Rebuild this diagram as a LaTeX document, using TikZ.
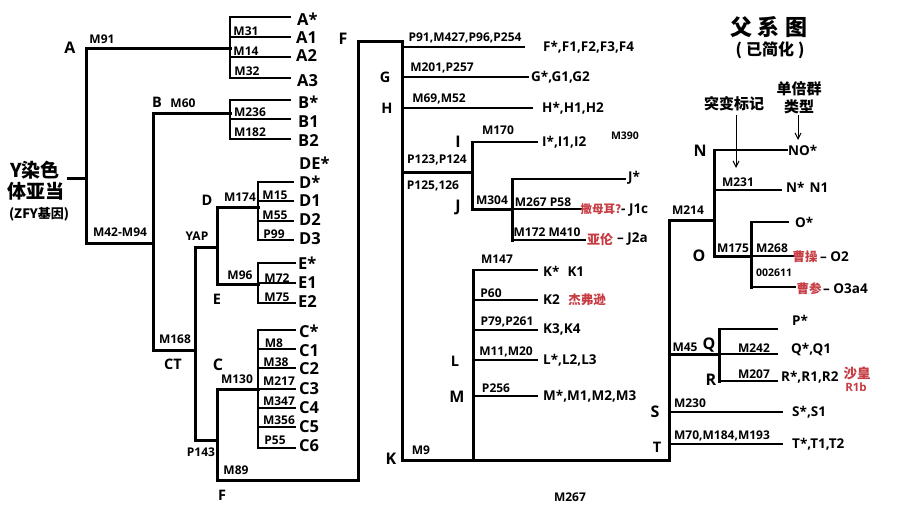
\documentclass[tikz,border=0pt]{standalone}
\usepackage{fontspec}
\setmainfont{Open Sans}
\newfontfamily\cjk{Noto Sans CJK SC}
\usetikzlibrary{arrows.meta}
\definecolor{redc}{RGB}{200,60,68}
\newcommand\twig[4]{\coordinate (#1a) at (#2,#4);\coordinate (#1b) at (#3,#4);\draw[leaf] (#1a) -- (#1b);}
\newcommand\stem[5][leaf]{\coordinate (#2a) at (#3,#4);\coordinate (#2b) at (#3,#5);\draw[#1] (#2a) -- (#2b);}
\tikzset{
  main/.style={line width=3pt,line cap=rect},
  leaf/.style={line width=2.2pt,line cap=rect},
  arr/.style={line width=1pt,-{Straight Barb[length=6pt,width=6pt]}},
  mk/.style={inner sep=0pt,font=\fontsize{12}{12}\selectfont\bfseries},
  mks/.style={inner sep=0pt,font=\fontsize{10.5}{10.5}\selectfont\bfseries},
  lfL/.style={inner sep=0pt,anchor=west,font=\fontsize{16.5}{16.5}\selectfont\bfseries},
  lfR/.style={inner sep=0pt,anchor=west,font=\fontsize{13.5}{13.5}\selectfont\bfseries},
  grp/.style={inner sep=0pt,font=\fontsize{16}{16}\selectfont\bfseries},
  grps/.style={inner sep=0pt,font=\fontsize{14.5}{14.5}\selectfont\bfseries},
  rtx/.style={inner sep=0pt,text=redc,font=\cjk\fontsize{12.5}{12.5}\selectfont\bfseries},
  cj/.style={inner sep=0pt,font=\cjk\fontsize{15}{15}\selectfont\bfseries},
}
\begin{document}
\begin{tikzpicture}[x=1pt,y=-1pt]
\useasboundingbox[fill=white] (0,0) rectangle (910,525);
% ---------- branch points ----------
\coordinate (root) at (68,178);
\coordinate (nA) at (86,48);
\coordinate (nAB) at (86,243);
\coordinate (nAsub) at (230,48);
\coordinate (nB) at (153,113);
\coordinate (nBsub) at (230,113);
\coordinate (nCT) at (153,350);
\coordinate (nYAP) at (195,247);
\coordinate (nDE) at (217,247);
\coordinate (nYAPe) at (195,440);
\coordinate (nCF) at (217,440);
\coordinate (nD) at (217,207);
\coordinate (nDsub) at (258,207);
\coordinate (nE) at (217,284);
\coordinate (nEsub) at (258,284);
\coordinate (nC) at (217,389);
\coordinate (nCsub) at (258,389);
\coordinate (nF) at (217,480);
\coordinate (nFb) at (358,480);
\coordinate (nFt) at (358,41);
\coordinate (nG) at (402,41);
\coordinate (nK) at (402,460);
\coordinate (nIJ) at (402,172);
\coordinate (nIJv) at (472,172);
\coordinate (nI) at (472,142);
\coordinate (nJ) at (472,209);
\coordinate (nJsub) at (512,209);
\coordinate (nNO) at (669,460);
\coordinate (nNOt) at (669,220);
\coordinate (nN) at (714,220);
\coordinate (nNt) at (714,150);
\coordinate (nO) at (714,256);
\coordinate (nOsub) at (751,256);
\coordinate (nQ) at (669,354);
\coordinate (nQsub) at (719,354);
% ---------- main branches ----------
\draw[main] (root) -- (root -| nA);
\draw[main] (nAsub) -- (nA) -- (nAB) -- (nAB -| nB);
\draw[main] (nBsub) -- (nB) -- (nCT) -- (nCT -| nYAP);
\draw[main] (nDE) -- (nYAP) -- (nYAPe) -- (nCF);
\draw[main] (nDsub) -- (nD) -- (nE) -- (nEsub);
\draw[main] (nCsub) -- (nC) -- (nF) -- (nFb) -- (nFt) -- (nG) -- (nK) -- (nNO) -- (nNOt) -- (nN);
\draw[main] (nIJ) -- (nIJv);
\draw[main] (nI) -- (nJ) -- (nJsub);
\stem[main]{sJ}{512}{179}{240}
\stem[main]{sLM}{473}{270}{460}
\draw[main] (nNt) -- (nO) -- (nOsub);
\stem[main]{sO}{751}{222}{287}
\draw[main] (nQ) -- (nQsub);
\stem[main]{sQ}{719}{329}{381}
% ---------- sub stems ----------
\stem{sA}{230}{17}{78}
\stem{sB}{230}{100}{139}
\stem{sD}{258}{182}{240}
\stem{sE}{258}{263}{303}
\stem{sC}{258}{330}{448}
% ---------- twigs ----------
\twig{tAs}{230}{290}{17}
\twig{tA1}{230}{290}{37}
\twig{tA2}{230}{290}{57}
\twig{tA3}{230}{290}{78}
\twig{tBs}{230}{290}{100}
\twig{tB1}{230}{290}{119}
\twig{tB2}{230}{290}{139}
\twig{tDs}{258}{293}{182}
\twig{tD1}{258}{293}{201}
\twig{tD2}{258}{293}{221}
\twig{tD3}{258}{293}{240}
\twig{tEs}{258}{295}{263}
\twig{tE1}{258}{295}{283}
\twig{tE2}{258}{295}{303}
\twig{tCs}{258}{295}{330}
\twig{tC1}{258}{295}{349}
\twig{tC2}{258}{295}{368}
\twig{tC3}{258}{295}{389}
\twig{tC4}{258}{295}{408}
\twig{tC5}{258}{295}{427}
\twig{tC6}{258}{295}{448}
\twig{tF}{402}{524}{47}
\twig{tG}{402}{528}{77}
\twig{tH}{402}{532}{108}
\twig{tI}{472}{537}{142}
\twig{tJs}{512}{625}{179}
\twig{tJ1}{512}{582}{209}
\twig{tJ2}{512}{585}{240}
\twig{tK1}{473}{537}{270}
\twig{tK2}{473}{537}{300}
\twig{tK3}{473}{537}{330}
\twig{tL}{473}{537}{360}
\twig{tM}{473}{537}{396}
\twig{tN}{714}{787}{150}
\twig{tN1}{714}{781}{190}
\twig{tOs}{751}{788}{222}
\twig{tO2}{751}{793}{256}
\twig{tO3}{751}{795}{287}
\twig{tP}{719}{777}{329}
\twig{tQ}{719}{777}{354}
\twig{tR}{719}{777}{381}
\twig{tS}{669}{782}{412}
\twig{tT}{669}{782}{444}
% ---------- root label ----------
\node[inner sep=0pt,font=\cjk\fontsize{19}{19}\selectfont\bfseries] (root1) at (35,170) {Y染色};
\node[inner sep=0pt,font=\cjk\fontsize{19}{19}\selectfont\bfseries] (root2) at (36,191) {体亚当};
\node[inner sep=0pt,font=\cjk\fontsize{13}{13}\selectfont\bfseries] (root3) at (39,214) {(ZFY基因)};
% ---------- title ----------
\node[inner sep=0pt,font=\cjk\fontsize{22}{22}\selectfont\bfseries] (title) at (769,27) {父 系 图};
\node[inner sep=0pt,font=\cjk\fontsize{16}{16}\selectfont\bfseries] (subtitle) at (770,50) {(\hspace{4pt}已简化\hspace{4pt})};
\node[cj] (lmut) at (734,104) {突变标记};
\node[cj] (lhap1) at (799,89) {单倍群};
\node[cj] (lhap2) at (799,107) {类型};
\coordinate (a1s) at (736,115);
\coordinate (a1e) at (736,168);
\coordinate (a2s) at (798,115);
\coordinate (a2e) at (798,140);
\draw[arr] (a1s) -- (a1e);
\draw[arr] (a2s) -- (a2e);
% ---------- group letters ----------
\node[grp] (gA) at (70,48) {A};
\node[grps] (gB) at (157,102) {B};
\node[grps] (gD) at (207,200) {D};
\node[grps] (gE) at (217,299) {E};
\node[grps] (gCT) at (173,364) {CT};
\node[grp] (gC) at (218,365) {C};
\node[grps] (gFb) at (222,495) {F};
\node[grp] (gFt) at (343,39) {F};
\node[grps] (gG) at (385,77) {G};
\node[grps] (gH) at (387,108) {H};
\node[grp] (gI) at (458,142) {I};
\node[grp] (gJ) at (458,207) {J};
\node[grp] (gK) at (391,459) {K};
\node[grps] (gL) at (455,361) {L};
\node[grp] (gM) at (457,397) {M};
\node[grp] (gN) at (700,151) {N};
\node[grp] (gO) at (699,256) {O};
\node[grp] (gQ) at (709,345) {Q};
\node[grp] (gR) at (711,380) {R};
\node[grp] (gS) at (655,412) {S};
\node[grps] (gT) at (657,447) {T};
% ---------- left leaves ----------
\node[lfL] (lAs) at (297,19) {A*};
\node[lfL] (lA1) at (296,37.5) {A1};
\node[lfL] (lA2) at (296,56) {A2};
\node[lfL] (lA3) at (297,81) {A3};
\node[lfL] (lBs) at (298,102) {B*};
\node[lfL] (lB1) at (298,122) {B1};
\node[lfL] (lB2) at (298,141) {B2};
\node[lfL] (lDE) at (299,163) {DE*};
\node[lfL] (lDs) at (299,182) {D*};
\node[lfL] (lD1) at (299,201) {D1};
\node[lfL] (lD2) at (299,220) {D2};
\node[lfL] (lD3) at (299,239) {D3};
\node[lfL] (lEs) at (298,263) {E*};
\node[lfL] (lE1) at (298,283) {E1};
\node[lfL] (lE2) at (298,302) {E2};
\node[lfL] (lCs) at (299,331) {C*};
\node[lfL] (lC1) at (299,351) {C1};
\node[lfL] (lC2) at (299,369) {C2};
\node[lfL] (lC3) at (299,389) {C3};
\node[lfL] (lC4) at (299,408) {C4};
\node[lfL] (lC5) at (299,427) {C5};
\node[lfL] (lC6) at (299,446) {C6};
% ---------- right leaves ----------
\node[lfR] (lF) at (543,47) {F*,F1,F2,F3,F4};
\node[lfR] (lG) at (531,77.5) {G*,G1,G2};
\node[lfR] (lH) at (542,108) {H*,H1,H2};
\node[lfR] (lI) at (542,142) {I*,I1,I2};
\node[lfR] (lJs) at (628,178) {J*};
\node[lfR] (lJ1) at (621,210) {- J1c};
\node[lfR] (lJ2) at (617,239) {– J2a};
\node[lfR] (lK1) at (543,271) {K*\hspace{8pt}K1};
\node[lfR] (lK2) at (543,300) {K2};
\node[lfR] (lK3) at (543,329) {K3,K4};
\node[lfR] (lL) at (543,360) {L*,L2,L3};
\node[lfR] (lM) at (543,396) {M*,M1,M2,M3};
\node[lfR] (lNO) at (788,150) {NO*};
\node[lfR] (lN1) at (786,187) {N*\hspace{5pt}N1};
\node[lfR] (lOs) at (795,222) {O*};
\node[lfR] (lO2) at (820,257) {– O2};
\node[lfR] (lO3) at (823,289) {– O3a4};
\node[lfR] (lP) at (792,320) {P*};
\node[lfR] (lQ) at (791,350) {Q*,Q1};
\node[lfR] (lR) at (781,377) {R*,R1,R2};
\node[lfR] (lS) at (792,412) {S*,S1};
\node[lfR] (lT) at (792,444) {T*,T1,T2};
% ---------- red names ----------
\node[rtx,font=\cjk\fontsize{11.5}{11.5}\selectfont\bfseries] (rJ1) at (601,209) {撒母耳?};
\node[rtx,font=\cjk\fontsize{13}{13}\selectfont\bfseries] (rJ2) at (600,240) {亚伦};
\node[rtx] (rK2) at (587,300) {杰弗逊};
\node[rtx] (rO2) at (805,257) {曹操};
\node[rtx] (rO3) at (809,289) {曹参};
\node[rtx,font=\cjk\fontsize{13.5}{13.5}\selectfont\bfseries] (rR1) at (857,373) {沙皇};
\node[rtx,font=\fontsize{11.5}{11.5}\selectfont\bfseries] (rR2) at (856,387) {R1b};
% ---------- mutation markers ----------
\node[mk] (m1) at (102,39) {M91};
\node[mk] (m2) at (246,31) {M31};
\node[mk] (m3) at (246,51) {M14};
\node[mk] (m4) at (247,71) {M32};
\node[mk] (m5) at (183,103) {M60};
\node[mk] (m6) at (250,112) {M236};
\node[mk] (m7) at (250,132) {M182};
\node[mk] (m8) at (240,197) {M174};
\node[mk] (m9) at (275,195) {M15};
\node[mk] (m10) at (275,215) {M55};
\node[mk] (m11) at (274,234) {P99};
\node[mk] (m12) at (197,236) {YAP};
\node[mk] (m13) at (120,232) {M42-M94};
\node[mk] (m14) at (240,275) {M96};
\node[mk] (m15) at (277,278) {M72};
\node[mk] (m16) at (277,297) {M75};
\node[mk] (m17) at (175,339) {M168};
\node[mk] (m18) at (237,379) {M130};
\node[mk] (m19) at (274,343) {M8};
\node[mk] (m20) at (276,362) {M38};
\node[mk] (m21) at (279,381) {M217};
\node[mk] (m22) at (279,401) {M347};
\node[mk] (m23) at (279,420) {M356};
\node[mk] (m24) at (275,440) {P55};
\node[mk] (m25) at (201,452) {P143};
\node[mk] (m26) at (236,470) {M89};
\node[mk] (m27) at (465,38) {P91,M427,P96,P254};
\node[mk] (m28) at (442,68) {M201,P257};
\node[mk] (m29) at (439,99) {M69,M52};
\node[mk] (m30) at (498,130) {M170};
\node[mks] (m31) at (625,136) {M390};
\node[mk] (m32) at (437,160) {P123,P124};
\node[mk] (m33) at (433,186) {P125,126};
\node[mk] (m34) at (492,200) {M304};
\node[mk] (m35) at (543,202) {M267 P58};
\node[mk] (m36) at (547,232) {M172 M410};
\node[mk] (m37) at (497,259) {M147};
\node[mk] (m38) at (491,293) {P60};
\node[mk] (m39) at (507,322) {P79,P261};
\node[mk] (m40) at (506,352) {M11,M20};
\node[mk] (m41) at (496,388) {P256};
\node[mk] (m42) at (421,450) {M9};
\node[mk] (m43) at (570,497) {M267};
\node[mk] (m44) at (738,182) {M231};
\node[mk] (m45) at (688,210) {M214};
\node[mk] (m46) at (733,248) {M175};
\node[mk] (m47) at (772,248) {M268};
\node[mks] (m48) at (774,273) {002611};
\node[mk] (m49) at (685,347) {M45};
\node[mk] (m50) at (754,348) {M242};
\node[mk] (m51) at (754,374) {M207};
\node[mk] (m52) at (690,403) {M230};
\node[mk] (m53) at (722,436) {M70,M184,M193};
\end{tikzpicture}
\end{document}
